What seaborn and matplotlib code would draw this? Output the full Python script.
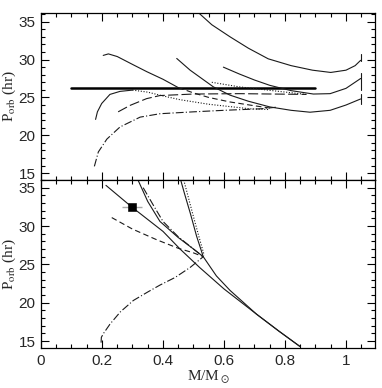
import numpy as np
import pandas as pd
import seaborn as sns
import matplotlib.pyplot as plt
from matplotlib.ticker import MultipleLocator

# ---- top panel tracks (M/Msun, Porb hr) ----
A_solid_x = [0.204, 0.221, 0.25, 0.303, 0.347, 0.40, 0.45]
A_solid_y = [30.55, 30.75, 30.4, 29.3, 28.4, 27.4, 26.3]
A_dash_x = [0.45, 0.50, 0.55, 0.62, 0.70, 0.75]
A_dash_y = [26.3, 25.6, 25.0, 24.4, 23.9, 23.6]

B_x = [0.445, 0.489, 0.565, 0.62, 0.68, 0.75, 0.82, 0.882, 0.948, 1.0, 1.048]
B_y = [30.15, 28.6, 26.4, 25.3, 24.5, 23.75, 23.3, 23.05, 23.3, 24.0, 24.8]

C_x = [0.516, 0.56, 0.62, 0.68, 0.745, 0.82, 0.89, 0.95, 1.0, 1.03, 1.048]
C_y = [36.2, 34.6, 33.0, 31.5, 30.1, 29.2, 28.6, 28.3, 28.6, 29.2, 29.9]

D_x = [0.598, 0.65, 0.70, 0.75, 0.82, 0.893, 0.948, 1.0, 1.048]
D_y = [29.0, 28.1, 27.3, 26.6, 25.9, 25.45, 25.5, 26.2, 27.5]

stub_x = [1.048, 1.048, 1.048]
stub_lo = [29.8, 26.0, 24.2]
stub_hi = [30.8, 28.2, 25.5]

E_solid_x = [0.179, 0.185, 0.199, 0.226, 0.259, 0.30]
E_solid_y = [22.1, 23.1, 24.2, 25.4, 25.8, 25.97]
E_dot_x = [0.30, 0.35, 0.40, 0.456, 0.55, 0.685, 0.75]
E_dot_y = [25.97, 25.7, 25.2, 24.7, 24.1, 23.5, 23.4]

F_x = [0.175, 0.188, 0.216, 0.259, 0.325, 0.39, 0.50, 0.60, 0.72, 0.77]
F_y = [15.9, 17.8, 19.5, 21.1, 22.4, 22.85, 23.1, 23.3, 23.5, 23.7]

G_x = [0.56, 0.65, 0.78, 0.87]
G_y = [27.0, 26.4, 25.8, 25.4]

H_x = [0.253, 0.292, 0.346, 0.39, 0.50, 0.65, 0.87]
H_y = [23.1, 23.95, 24.84, 25.25, 25.45, 25.5, 25.4]

obs_x = [0.10, 0.90]
obs_y = [26.3, 26.3]

# ---- bottom panel tracks ----
L1_x = [0.213, 0.297, 0.40, 0.456, 0.52, 0.60, 0.707, 0.78, 0.849]
L1_y = [35.3, 32.5, 29.3, 27.0, 24.6, 21.8, 18.5, 16.3, 14.3]

Lb_x = [0.318, 0.35, 0.39, 0.45, 0.50, 0.532]
Lb_y = [36.0, 33.2, 30.6, 28.5, 27.0, 26.0]

L3_x = [0.458, 0.47, 0.49, 0.51, 0.532, 0.575, 0.62, 0.707, 0.78, 0.849]
L3_y = [36.0, 34.3, 31.6, 28.7, 26.0, 23.5, 21.6, 18.5, 16.3, 14.3]

Ldot_x = [0.468, 0.48, 0.50, 0.52, 0.535]
Ldot_y = [36.0, 34.2, 31.2, 28.3, 26.2]

Lc_x = [0.335, 0.37, 0.40, 0.45, 0.50, 0.532]
Lc_y = [35.0, 32.6, 30.6, 28.6, 27.0, 26.0]

Ld_x = [0.232, 0.30, 0.38, 0.45, 0.50, 0.532]
Ld_y = [31.1, 29.6, 28.2, 27.1, 26.5, 26.0]

Lf_x = [0.197, 0.198, 0.205, 0.226, 0.26, 0.303, 0.35, 0.39, 0.44, 0.489, 0.532]
Lf_y = [14.8, 15.5, 16.0, 17.2, 18.8, 20.3, 21.4, 22.3, 23.3, 24.6, 26.0]

star_m = [0.297]
star_p = [32.5]
star_merr = [0.033]

sns.set_style("ticks")
plt.rcParams["font.family"] = ["Liberation Sans", "DejaVu Sans"]
plt.rcParams["mathtext.fontset"] = "stix"
plt.rcParams["xtick.direction"] = "in"
plt.rcParams["ytick.direction"] = "in"

fig = plt.figure(figsize=(3.82, 3.88), dpi=100)
ax1 = fig.add_axes([0.1073, 0.5361, 0.8743, 0.4304])
ax2 = fig.add_axes([0.1073, 0.1031, 0.8743, 0.4330])

col = "#1a1a1a"


def track(ax, x, y, ls="-", lw=0.8, c=col):
    d = pd.DataFrame({"m": x, "p": y})
    sns.lineplot(data=d, x="m", y="p", ax=ax, sort=False, estimator=None,
                 color=c, linewidth=lw, linestyle=ls)


dashdot = (0, (7, 2, 1, 2))
dotted = (0, (1, 1.5))
dashed = (0, (5, 3))
longdash = (0, (9, 3))

# top panel
track(ax1, obs_x, obs_y, lw=1.8, c="k")
track(ax1, A_solid_x, A_solid_y)
track(ax1, A_dash_x, A_dash_y, ls=dashed)
track(ax1, B_x, B_y)
track(ax1, C_x, C_y)
track(ax1, D_x, D_y)
for sx, lo, hi in zip(stub_x, stub_lo, stub_hi):
    track(ax1, [sx, sx], [lo, hi])
track(ax1, E_solid_x, E_solid_y)
track(ax1, E_dot_x, E_dot_y, ls=dotted)
track(ax1, F_x, F_y, ls=dashdot)
track(ax1, G_x, G_y, ls=dotted)
track(ax1, H_x, H_y, ls=longdash)

# bottom panel
track(ax2, L1_x, L1_y)
track(ax2, Lb_x, Lb_y)
track(ax2, L3_x, L3_y)
track(ax2, Ldot_x, Ldot_y, ls=dotted)
track(ax2, Lc_x, Lc_y, ls=dashdot)
track(ax2, Ld_x, Ld_y, ls=dashed)
track(ax2, Lf_x, Lf_y, ls=dashdot)
ax2.errorbar(star_m, star_p, xerr=star_merr, fmt="none", ecolor="#aaaaaa",
             elinewidth=1.0, zorder=4)
sns.scatterplot(x=star_m, y=star_p, ax=ax2, marker="s", color="k", s=28,
                edgecolor="k", zorder=5)

serif = ["Liberation Serif", "DejaVu Serif"]
for ax, ytop in ((ax1, 36.15), (ax2, 36.0)):
    ax.set_xlim(0, 1.095)
    ax.set_ylim(14.1, ytop)
    ax.xaxis.set_major_locator(MultipleLocator(0.2))
    ax.xaxis.set_minor_locator(MultipleLocator(0.05))
    ax.yaxis.set_major_locator(MultipleLocator(5))
    ax.yaxis.set_minor_locator(MultipleLocator(1))
    ax.tick_params(which="both", top=True, right=True, direction="in",
                   color="k", width=0.8, labelsize=11, pad=4)
    ax.tick_params(which="major", length=6)
    ax.tick_params(which="minor", length=3)
    for s in ax.spines.values():
        s.set_linewidth(0.9)
        s.set_color("k")
    ax.set_yticks([15, 20, 25, 30, 35])
    ax.set_yticklabels(["15", "20", "25", "30", "35"])
    ax.set_ylabel(r"P$_{\rm orb}$ (hr)", fontsize=11, family=serif)
    ax.yaxis.set_label_coords(-0.07, 0.5)
    ax.set_xlabel("")

ax1.tick_params(labelbottom=False)
ax2.set_xticks([0, 0.2, 0.4, 0.6, 0.8, 1.0])
ax2.set_xticklabels(["0", "0.2", "0.4", "0.6", "0.8", "1"])
ax2.set_xlabel(r"M/M$_\odot$", fontsize=11, family=serif, labelpad=1)

fig.savefig("out.png", dpi=100)
